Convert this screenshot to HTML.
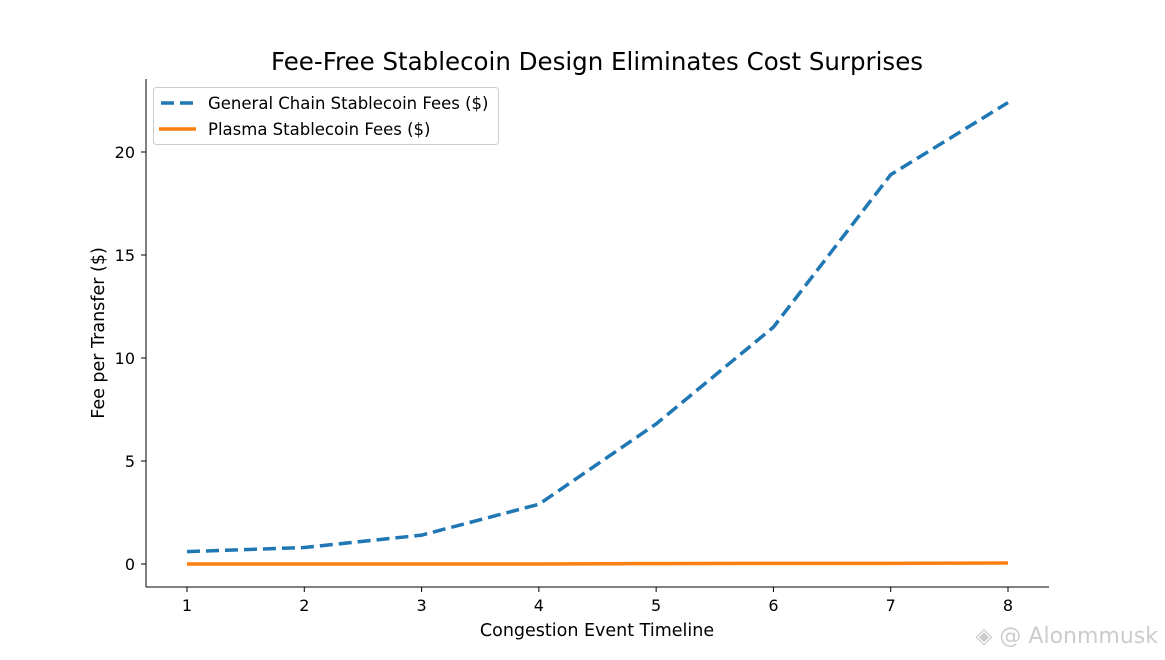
<!DOCTYPE html>
<html><head><meta charset="utf-8"><style>
body{margin:0;background:#fff;}
svg{display:block;font-family:"DejaVu Sans","Liberation Sans",sans-serif;}
</style></head><body>
<svg id="chart" width="1165" height="660">
<text x="597" y="70" font-size="24.5" text-anchor="middle">Fee-Free Stablecoin Design Eliminates Cost Surprises</text>
<g id="axes"></g>
<g id="series"></g>
<g>
<rect x="153.5" y="87.5" width="345" height="57" rx="3" fill="#fff" stroke="#ccc"/>
<line x1="161" y1="103" x2="195" y2="103" stroke="#1f77b4" stroke-width="3.5" stroke-dasharray="13,6"/>
<text x="208" y="109" font-size="16.5">General Chain Stablecoin Fees ($)</text>
<line x1="159" y1="129" x2="196" y2="129" stroke="#ff7f0e" stroke-width="3.5"/>
<text x="208" y="135" font-size="16.5">Plasma Stablecoin Fees ($)</text>
</g>
<text x="597" y="636" font-size="17.5" text-anchor="middle">Congestion Event Timeline</text>
<text transform="translate(104,333) rotate(-90)" font-size="17.5" text-anchor="middle">Fee per Transfer ($)</text>
<text x="1158" y="643" font-size="22" fill="#ccc" text-anchor="end">◈ @ Alonmmusk</text>
</svg>
<script>
const categories=[1,2,3,4,5,6,7,8];
const generalFees=[0.6,0.8,1.4,2.9,6.8,11.5,18.9,22.4];
const plasmaFees=[0,0,0,0,0.02,0.03,0.03,0.05];
const yTicks=[0,5,10,15,20];
const NS="http://www.w3.org/2000/svg";
const xs=v=>187+(v-1)*(1008-187)/7;
const ys=v=>564-v*(564-152)/20;
const axes=document.getElementById('axes'),series=document.getElementById('series');
function mk(tag,attrs,parent){const e=document.createElementNS(NS,tag);for(const k in attrs)e.setAttribute(k,attrs[k]);parent.appendChild(e);return e;}
const yl=mk('line',{x1:146,y1:79,x2:146,y2:587,stroke:'#000','stroke-width':1},axes);


const xl=mk('line',{x1:146,y1:587,x2:1049,y2:587,stroke:'#000','stroke-width':1},axes);


categories.forEach(c=>{
 mk('line',{x1:xs(c),y1:587,x2:xs(c),y2:592,stroke:'#000'},axes);
 const t=mk('text',{x:xs(c),y:611,'font-size':16,'text-anchor':'middle'},axes);t.textContent=c;
 
 
});
yTicks.forEach(v=>{
 mk('line',{x1:141,y1:ys(v),x2:146,y2:ys(v),stroke:'#000'},axes);
 const t=mk('text',{x:135,y:ys(v)+6,'font-size':16,'text-anchor':'end'},axes);t.textContent=v;
 
 
});
const pts=a=>a.map((v,i)=>xs(categories[i])+','+ys(v)).join(' ');
const g=mk('polyline',{points:pts(generalFees),fill:'none',stroke:'#1f77b4','stroke-width':3.5,'stroke-dasharray':'13,6'},series);


const p=mk('polyline',{points:pts(plasmaFees),fill:'none',stroke:'#ff7f0e','stroke-width':3.5},series);


</script>
</body></html>
